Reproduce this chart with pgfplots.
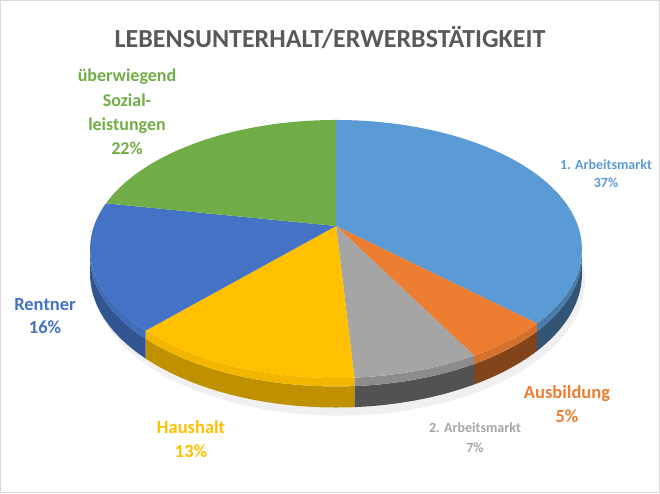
\documentclass[border=0pt]{standalone}
\usepackage{pgfplots}
\pgfplotsset{compat=1.18}
\usepackage{pgfplotstable}
\usepgfplotslibrary{fillbetween}
\usepackage{fontspec}
\setmainfont{Carlito}

\definecolor{cBlueL}{HTML}{5B9BD5}
\definecolor{cOrange}{HTML}{ED7D31}
\definecolor{cGray}{HTML}{A5A5A5}
\definecolor{cGold}{HTML}{FFC000}
\definecolor{cBlue}{HTML}{4472C4}
\definecolor{cGreen}{HTML}{70AD47}
\definecolor{cTitle}{HTML}{595959}

% shares in percent, clockwise from 12 o'clock
\pgfplotstableread{
share
37
5
7
13
16
22
}\piedata

\newcommand\lab[5]{\node[anchor=base, inner sep=0pt, text=#4,
  font=\fontsize{#5}{#5}\selectfont\bfseries] at (axis cs:#1,#2) {#3};}

% side wall of a slice: #1 name, #2 from, #3 to, #4 dark colour, #5 rim colour
\newcommand\wall[5]{%
  \addplot[draw=none, name path=#1t, domain=#2:#3, samples=40, variable=\t] ({px(\t)},{py(\t)});
  \addplot[draw=none, name path=#1m, domain=#2:#3, samples=40, variable=\t] ({px(\t)},{pm(\t)});
  \addplot[draw=none, name path=#1b, domain=#2:#3, samples=40, variable=\t] ({px(\t)},{pb(\t)});
  \addplot[fill=#4] fill between[of=#1m and #1b];
  \addplot[fill=#5] fill between[of=#1t and #1m];
}
% top face of a slice: #1 from, #2 to, #3 colour
\newcommand\slicetop[3]{%
  \addplot[fill=#3, draw=none, domain=#1:#2, samples=60, variable=\t]
    ({px(\t)},{py(\t)}) -- (axis cs:336,226) -- cycle;
}

\begin{document}
\begin{tikzpicture}
\pgfplotstablegetelem{0}{share}\of\piedata\let\sA\pgfplotsretval
\pgfplotstablegetelem{1}{share}\of\piedata\let\sB\pgfplotsretval
\pgfplotstablegetelem{2}{share}\of\piedata\let\sC\pgfplotsretval
\pgfplotstablegetelem{3}{share}\of\piedata\let\sD\pgfplotsretval
\pgfplotstablegetelem{4}{share}\of\piedata\let\sE\pgfplotsretval
\pgfplotstablegetelem{5}{share}\of\piedata\let\sF\pgfplotsretval
\pgfmathsetmacro\aA{90}
\pgfmathsetmacro\aB{\aA-3.6*\sA}
\pgfmathsetmacro\aC{\aB-3.6*\sB}
\pgfmathsetmacro\aD{\aC-3.6*\sC}
\pgfmathsetmacro\aE{\aD-3.6*\sD}
\pgfmathsetmacro\aF{\aE-3.6*\sE}
\pgfmathsetmacro\aG{\aF-3.6*\sF}
\begin{axis}[
  width=660pt, height=493pt, scale only axis,
  xmin=0, xmax=660, ymin=0, ymax=493, y dir=reverse,
  hide axis, clip=false,
  declare function={
    px(\t)=336+242*cos(\t)/(1+0.178*sin(\t));
    py(\t)=226-124.9*sin(\t)/(1+0.178*sin(\t));
    pm(\t)=py(\t)+7/(1+0.178*sin(\t));
    pb(\t)=py(\t)+24.3/(1+0.178*sin(\t));
    ps(\t)=py(\t)+31/(1+0.178*sin(\t));
  },
]
% frame
\draw[color=black!15, line width=1pt] (axis cs:0.5,0.5) rectangle (axis cs:659.5,492.5);

% soft shadow below the pie
\addplot[draw=none, name path=sht, domain=-178:-2, samples=60, variable=\t] ({px(\t)},{pb(\t)-2});
\addplot[draw=none, name path=shb, domain=-178:-2, samples=60, variable=\t] ({px(\t)+3},{ps(\t)});
\addplot[fill=black!6] fill between[of=sht and shb];

% walls
\wall{w1}{\aB}{-10.25}{cBlueL!55!black}{cBlueL!80!black}
\wall{w2}{\aC}{\aB}{cOrange!55!black}{cOrange!90!black}
\wall{w3}{\aD}{\aC}{cGray!50!black}{cGray!85!black}
\wall{w4}{\aE}{\aD}{cGold!75!black}{cGold!95!black}
\wall{w5}{-169.75}{\aE}{cBlue!75!black}{cBlue!95!black}

% top faces
\slicetop{\aB}{\aA}{cBlueL}
\slicetop{\aC}{\aB}{cOrange}
\slicetop{\aD}{\aC}{cGray}
\slicetop{\aE}{\aD}{cGold}
\slicetop{\aF}{\aE}{cBlue}
\slicetop{\aG}{\aF}{cGreen}

% title and labels
\lab{330}{48}{LEBENSUNTERHALT/ERWERBSTÄTIGKEIT}{cTitle}{26}
\lab{127}{82}{überwiegend}{cGreen}{18}
\lab{127}{107}{Sozial-}{cGreen}{18}
\lab{127}{131}{leistungen}{cGreen}{18}
\lab{127}{155}{22\%}{cGreen}{18}
\lab{606}{170}{1. Arbeitsmarkt}{cBlueL}{14}
\lab{606}{188}{37\%}{cBlueL}{14}
\lab{567}{398}{Ausbildung}{cOrange}{18.5}
\lab{567}{422}{5\%}{cOrange}{18.5}
\lab{475}{432}{2. Arbeitsmarkt}{cGray}{14}
\lab{475}{452}{7\%}{cGray}{14}
\lab{45}{310}{Rentner}{cBlue}{18.5}
\lab{45}{333}{16\%}{cBlue}{18.5}
\lab{191}{433}{Haushalt}{cGold}{18.5}
\lab{191}{457}{13\%}{cGold}{18.5}
\end{axis}
\end{tikzpicture}
\end{document}
